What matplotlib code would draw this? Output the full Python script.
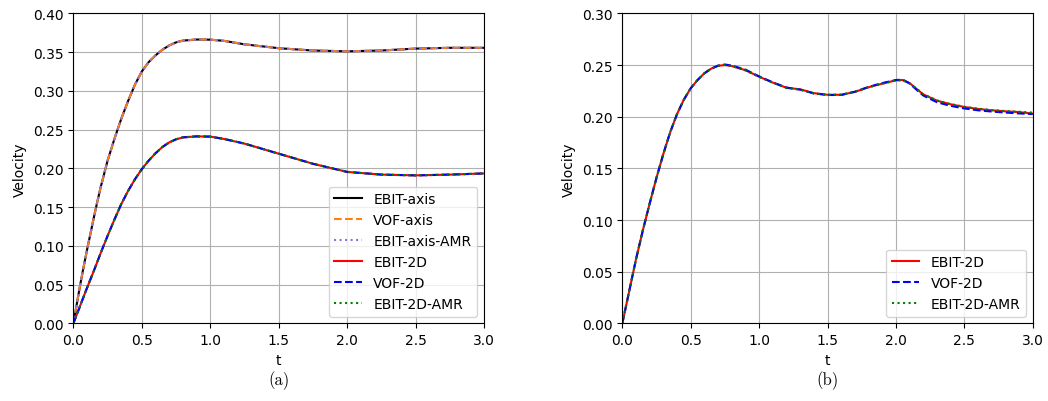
import numpy as np
import matplotlib
matplotlib.use("Agg")
import matplotlib.pyplot as plt

# ---------------- data ----------------
# (a) axisymmetric + 2D, two curves
t_a = [0, 0.025, 0.05, 0.075, 0.10, 0.125, 0.15, 0.175, 0.20, 0.25, 0.30,
       0.35, 0.40, 0.45, 0.50, 0.55, 0.60, 0.65, 0.70, 0.75, 0.80, 0.90,
       1.00, 1.10, 1.25, 1.50, 1.75, 2.00, 2.25, 2.50, 2.75, 3.00]
v_axis = [0, 0.025, 0.050, 0.073, 0.095, 0.116, 0.137, 0.157, 0.176, 0.210,
          0.238, 0.264, 0.287, 0.308, 0.325, 0.337, 0.3457, 0.353, 0.3585,
          0.3625, 0.3648, 0.3662, 0.366, 0.3645, 0.360, 0.355, 0.352, 0.351,
          0.352, 0.3545, 0.3555, 0.3555]
v_2d_a = [0, 0.0115, 0.023, 0.0345, 0.046, 0.057, 0.068, 0.0795, 0.091, 0.113,
          0.134, 0.154, 0.171, 0.186, 0.199, 0.2100, 0.2195, 0.2275, 0.2335,
          0.2375, 0.2400, 0.2413, 0.241, 0.238, 0.232, 0.219, 0.206, 0.1955,
          0.192, 0.191, 0.192, 0.1935]

# (b) 2D only
t_b = [0, 0.05, 0.10, 0.15, 0.20, 0.25, 0.30, 0.35, 0.40, 0.45, 0.50, 0.55,
       0.60, 0.65, 0.70, 0.75, 0.80, 0.90, 1.00, 1.10, 1.20, 1.30, 1.40, 1.50,
       1.60, 1.70, 1.80, 1.90, 2.00, 2.05, 2.10, 2.15, 2.20, 2.30, 2.40, 2.50,
       2.60, 2.70, 2.80, 2.90, 3.00]
v_ebit_b = [0, 0.031, 0.062, 0.090, 0.116, 0.141, 0.164, 0.185, 0.2025, 0.2165,
            0.2275, 0.2355, 0.2420, 0.2465, 0.2492, 0.250, 0.249, 0.245, 0.2387,
            0.233, 0.228, 0.2265, 0.2228, 0.2212, 0.2212, 0.2240, 0.2285,
            0.232, 0.2352, 0.2355, 0.2325, 0.227, 0.2216, 0.2155, 0.212,
            0.2094, 0.2075, 0.2062, 0.2052, 0.2045, 0.2030]
v_vof_b = [0, 0.031, 0.062, 0.090, 0.116, 0.141, 0.164, 0.185, 0.2025, 0.2165,
           0.2275, 0.2355, 0.2420, 0.2465, 0.2494, 0.2505, 0.2495, 0.2455, 0.239,
           0.2332, 0.2282, 0.2262, 0.2225, 0.2210, 0.2210, 0.2242, 0.2288,
           0.2325, 0.2355, 0.2358, 0.2322, 0.2262, 0.2205, 0.2140, 0.2105,
           0.2080, 0.2062, 0.2050, 0.2040, 0.2032, 0.2025]
v_amr_b = [0, 0.031, 0.062, 0.090, 0.116, 0.141, 0.164, 0.185, 0.2025, 0.2165,
           0.2275, 0.2355, 0.2420, 0.2465, 0.2492, 0.250, 0.249, 0.2448, 0.2385,
           0.2328, 0.2278, 0.2262, 0.2225, 0.2212, 0.2214, 0.2240, 0.2285,
           0.2318, 0.2350, 0.2352, 0.2322, 0.2272, 0.2218, 0.2158, 0.2122,
           0.2096, 0.2078, 0.2064, 0.2055, 0.2048, 0.2040]

fig = plt.figure(figsize=(10.48, 4.02), dpi=100)
ax1 = fig.add_axes([0.0700, 0.1928, 0.3918, 0.7716])
ax2 = fig.add_axes([0.5938, 0.1928, 0.3916, 0.7716])

# ------------- (a) -------------
ax1.plot(t_a, v_axis, color='black', ls='-', label='EBIT-axis')
ax1.plot(t_a, v_axis, color='tab:orange', ls='--', label='VOF-axis')
ax1.plot(t_a, v_axis, color='mediumpurple', ls=':', label='EBIT-axis-AMR')
ax1.plot(t_a, v_2d_a, color='red', ls='-', label='EBIT-2D')
ax1.plot(t_a, v_2d_a, color='blue', ls='--', label='VOF-2D')
ax1.plot(t_a, v_2d_a, color='green', ls=':', label='EBIT-2D-AMR')
ax1.set_xlim(0, 3)
ax1.set_ylim(0, 0.40)
ax1.set_yticks(np.arange(0, 0.401, 0.05))
ax1.set_xlabel('t')
ax1.set_ylabel('Velocity')
ax1.grid(True)
ax1.legend(loc='lower right')

# ------------- (b) -------------
ax2.plot(t_b, v_ebit_b, color='red', ls='-', label='EBIT-2D')
ax2.plot(t_b, v_vof_b, color='blue', ls='--', label='VOF-2D')
ax2.plot(t_b, v_amr_b, color='green', ls=':', label='EBIT-2D-AMR')
ax2.set_xlim(0, 3)
ax2.set_ylim(0, 0.30)
ax2.set_yticks(np.arange(0, 0.301, 0.05))
ax2.set_xlabel('t')
ax2.set_ylabel('Velocity')
ax2.grid(True)
ax2.legend(loc='lower right')

fig.text(0.2659, 0.053, '(a)', ha='center', va='center', fontfamily='cmr10', fontsize=12)
fig.text(0.7896, 0.053, '(b)', ha='center', va='center', fontfamily='cmr10', fontsize=12)

fig.savefig('out.png', dpi=100)
